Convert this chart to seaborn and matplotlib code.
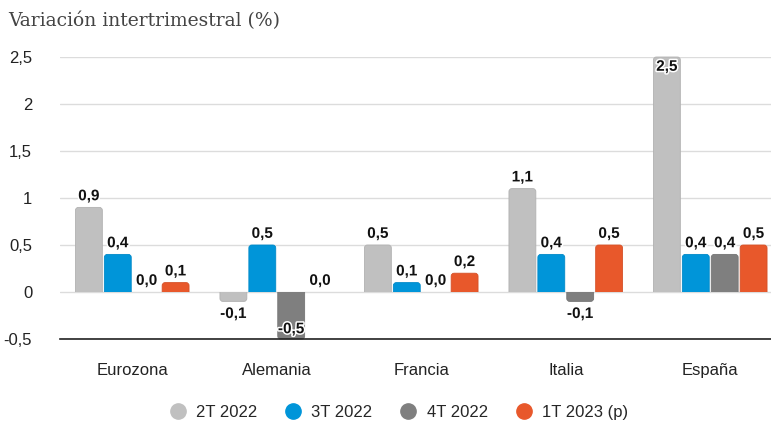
import matplotlib
matplotlib.use("Agg")
import matplotlib.pyplot as plt
import matplotlib.patheffects as pe
from matplotlib.patches import FancyBboxPatch, Rectangle
from matplotlib.colors import to_rgb
import seaborn as sns
import pandas as pd
from matplotlib.lines import Line2D

regions = ["Eurozona", "Alemania", "Francia", "Italia", "España"]
series = ["2T 2022", "3T 2022", "4T 2022", "1T 2023 (p)"]
q2_2022 = [0.9, -0.1, 0.5, 1.1, 2.5]
q3_2022 = [0.4, 0.5, 0.1, 0.4, 0.4]
q4_2022 = [0.0, -0.5, 0.0, -0.1, 0.4]
q1_2023 = [0.1, 0.0, 0.2, 0.5, 0.5]
colors = ["#c0c0c0", "#0095d9", "#7f7f7f", "#e8582b"]
y_ticks = [-0.5, 0, 0.5, 1, 1.5, 2, 2.5]
y_tick_labels = ["-0,5", "0", "0,5", "1", "1,5", "2", "2,5"]

values = [q2_2022, q3_2022, q4_2022, q1_2023]
df = pd.DataFrame(
    [(r, s, v[i]) for s, v in zip(series, values) for i, r in enumerate(regions)],
    columns=["region", "serie", "valor"],
)

sns.set_style("white")
plt.rcParams["font.family"] = ["Liberation Sans", "DejaVu Sans"]

W, H = 771, 423
px_per_cat = 144.5
ax_left, ax_top, ax_bottom = 60, 57, 339
fig = plt.figure(figsize=(W / 100, H / 100), dpi=100)
ax = fig.add_axes([ax_left / W, (H - ax_bottom) / H, 5 * px_per_cat / W, (ax_bottom - ax_top) / H])

sns.barplot(
    data=df, x="region", y="valor", hue="serie", order=regions, hue_order=series,
    palette=colors, width=0.8, gap=0.07, ax=ax, legend=False, errorbar=None,
    saturation=1, linewidth=0,
)

ax.set_ylim(-0.5, 2.5)
ax.set_xlim(-0.5, len(regions) - 0.5)

# swap plain rectangles for bars rounded only at their outer end
x_per_px = 1 / px_per_cat
y_per_px = 3 / (ax_bottom - ax_top)
radius = 3 * x_per_px
ext = 4 * y_per_px
for container in ax.containers:
    for bar in container:
        x, y = bar.get_x(), bar.get_y()
        w, h = bar.get_width(), bar.get_height()
        fc = bar.get_facecolor()
        bar.set_visible(False)
        if abs(h) < 1e-9:
            continue
        if h > 0:
            y0, hh = y - ext, h + ext
            clip = Rectangle((x - 0.05, y), w + 0.1, h + 0.1, transform=ax.transData)
        else:
            y0, hh = y + h, -h + ext
            clip = Rectangle((x - 0.05, y + h - 0.1), w + 0.1, -h + 0.1, transform=ax.transData)
        edge = tuple(c * 0.92 for c in to_rgb(fc))
        patch = FancyBboxPatch(
            (x, y0), w, hh,
            boxstyle=f"round,pad=0,rounding_size={min(radius, w / 2)}",
            mutation_aspect=y_per_px / x_per_px,
            facecolor=fc, edgecolor=edge, linewidth=0.6, zorder=2,
        )
        ax.add_patch(patch)
        patch.set_clip_path(clip)

ax.set_yticks(y_ticks)
ax.set_yticklabels(y_tick_labels)
ax.yaxis.grid(True, color="#dcdcdc", linewidth=1)
ax.set_axisbelow(True)
for side in ["top", "right", "left"]:
    ax.spines[side].set_visible(False)
ax.spines["bottom"].set_color("#222222")
ax.spines["bottom"].set_linewidth(1.2)
ax.tick_params(axis="y", length=0, labelsize=12, pad=20, colors="#222222")
ax.tick_params(axis="x", length=0, labelsize=12, pad=17, colors="#222222")
ax.set_xlabel("")
ax.set_ylabel("")

# value labels above positive bars, below negative ones
halo = [pe.withStroke(linewidth=2.2, foreground="white")]
for container, vals in zip(ax.containers, values):
    for bar, v in zip(container, vals):
        x = bar.get_x() + bar.get_width() / 2
        label = f"{v:.1f}".replace(".", ",")
        kw = dict(textcoords="offset points", ha="center", fontsize=11,
                  fontweight="bold", color="#111111", path_effects=halo, zorder=5)
        if v >= 2.4:
            ax.annotate(label, (x, v), xytext=(0, -2), va="top", **kw)
        elif v >= 0:
            ax.annotate(label, (x, v), xytext=(0, 3), va="bottom", **kw)
        elif v <= -0.4:
            ax.annotate(label, (x, -0.5), xytext=(0, 2), va="bottom", **kw)
        else:
            ax.annotate(label, (x, v), xytext=(0, -4), va="top", **kw)

fig.text(8 / W, 1 - 21 / H, "Variación intertrimestral (%)", family="DejaVu Serif",
         fontsize=13.5, color="#444444", va="center", ha="left")

handles = [Line2D([0], [0], marker="o", linestyle="", markersize=11,
                  markerfacecolor=c, markeredgecolor=c) for c in colors]
fig.legend(handles, series, loc="center", bbox_to_anchor=(397 / W, 1 - 412 / H),
           ncol=4, frameon=False, fontsize=12, handletextpad=0.4, columnspacing=1.45,
           handlelength=1.4)

fig.savefig("out.png", dpi=100)
